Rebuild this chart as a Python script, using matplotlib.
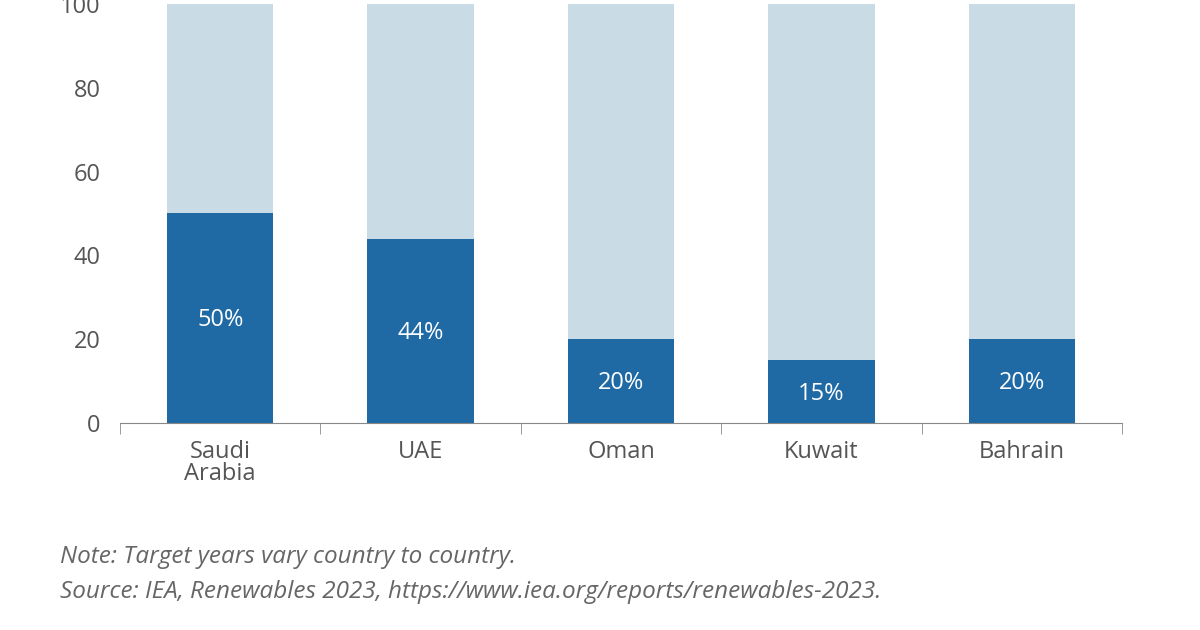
import matplotlib
matplotlib.use("Agg")
import matplotlib.pyplot as plt

countries = ["Saudi\nArabia", "UAE", "Oman", "Kuwait", "Bahrain"]
targets = [50, 44, 20, 15, 20]
labels = ["50%", "44%", "20%", "15%", "20%"]
total = 100

dark = "#1f6aa5"
light = "#c9dce6"
grey = "#555555"

plt.rcParams["font.family"] = ["Open Sans", "DejaVu Sans"]

fig = plt.figure(figsize=(12, 6.3), dpi=100)
ax = fig.add_axes([0.1, 1 - 423 / 630, 0.835, 419 / 630])

x = list(range(len(countries)))
ax.bar(x, [total] * len(x), width=0.53, color=light, zorder=1)
ax.bar(x, targets, width=0.53, color=dark, zorder=2)
for xi, v, lab in zip(x, targets, labels):
    ax.text(xi, v / 2 - 0.5, lab, ha="center", va="center", color="white", fontsize=17)

ax.set_xlim(-0.5, len(x) - 0.5)
ax.set_ylim(0, 100)
ax.set_yticks([0, 20, 40, 60, 80, 100])
ax.tick_params(axis="y", length=0, labelsize=17, labelcolor=grey, pad=14)
ax.set_xticks(x)
ax.set_xticklabels(countries, fontsize=17, color=grey, linespacing=0.9)
ax.tick_params(axis="x", length=0, pad=12)
ax.set_xticks([i - 0.5 for i in range(len(x) + 1)], minor=True)
ax.tick_params(axis="x", which="minor", length=8, color="#888888", direction="out")
for s in ["left", "right", "top"]:
    ax.spines[s].set_visible(False)
ax.spines["bottom"].set_color("#888888")

fig.text(0.05, 1 - 557 / 630, "Note: Target years vary country to country.",
         fontsize=17.5, style="italic", color="#666666", va="center")
fig.text(0.05, 1 - 592 / 630,
         "Source: IEA, Renewables 2023, https://www.iea.org/reports/renewables-2023.",
         fontsize=17.5, style="italic", color="#666666", va="center")

fig.savefig("out.png", dpi=100)
